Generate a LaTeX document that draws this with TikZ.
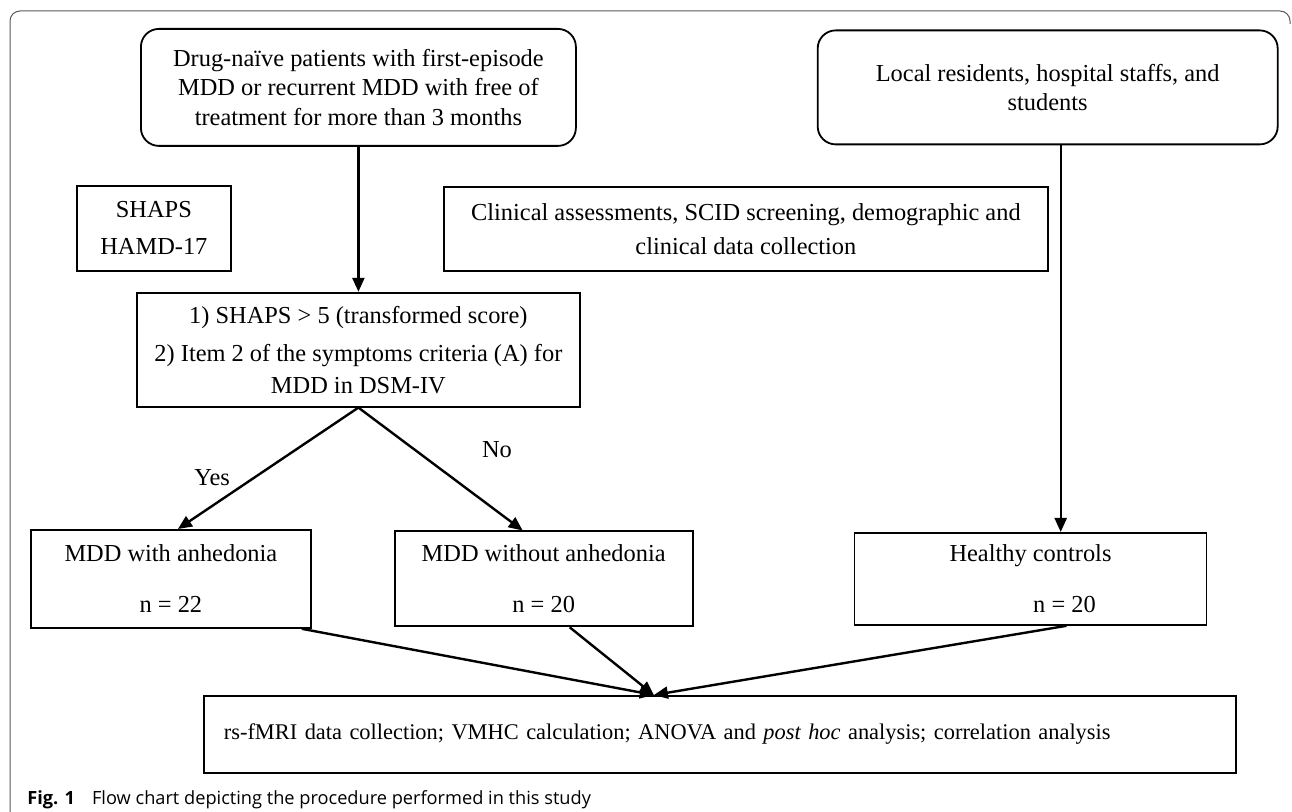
\documentclass[tikz,border=0pt]{standalone}
\usepackage{fontspec}
\setmainfont{Liberation Serif}
\newfontfamily\capfont{Open Sans}
\usetikzlibrary{positioning,arrows.meta}

\begin{document}
\begin{tikzpicture}[x=1pt, y=1pt,
    font=\fontsize{12.2}{14.8}\selectfont,
    box/.style={draw, line width=0.9pt, align=center, inner sep=0pt},
    roundbox/.style={box, rounded corners=9pt},
    flow/.style={-{Triangle[length=7pt,width=6pt]}, line width=1.2pt}]
    \useasboundingbox (0,0) rectangle (646,-406);
    \draw[gray!70!black, line width=0.5pt, rounded corners=5pt] (645,-12) -- (645,-5.5) -- (5,-5.5) -- (5,-406);

    \node[roundbox, minimum width=217.5pt, minimum height=58.5pt, anchor=north west] (drug) at (70,-14) {Drug-naïve patients with first-episode\\ MDD or recurrent MDD with free of\\ treatment for more than 3 months};
    \node[roundbox, minimum width=230pt, minimum height=57pt] (local) [right=120pt of drug] {Local residents, hospital staffs, and\\ students};
    \node[box, minimum width=77pt, minimum height=42.5pt, anchor=north west] (shaps) at (38,-92.5) {SHAPS\\[3.7pt] HAMD-17};
    \node[box, minimum width=302pt, minimum height=42pt, anchor=north west] (clin) at (221.5,-93) {Clinical assessments, SCID screening, demographic and\\[2.2pt] clinical data collection};
    \node[box, minimum width=221.5pt, minimum height=57pt] (crit) [below=72.5pt of drug] {1) SHAPS > 5 (transformed score)\\[4.2pt] 2) Item 2 of the symptoms criteria (A) for\\[1.2pt] MDD in DSM-IV};

    \node[box, minimum width=140pt, minimum height=49pt, anchor=north west] (withA) at (15,-264.5) {MDD with anhedonia\\[10.7pt] n = 22};
    \node[box, minimum width=149pt, minimum height=47.5pt] (noA) [right=41pt of withA] {MDD without anhedonia\\[10.7pt] n = 20};
    \node[box, minimum width=176pt, minimum height=46pt] (hc) [right=80pt of noA] {Healthy controls\\[10.7pt]\hspace*{34pt}n = 20};
    \node[box, minimum width=516pt, minimum height=38.5pt, anchor=north west, align=left, text width=496pt, font=\fontsize{11.2}{14}\selectfont] (final) at (101.5,-347.5) {rs-fMRI data collection; VMHC calculation; ANOVA and \textit{post hoc} analysis; correlation analysis};

    \node[anchor=base west, inner sep=0pt, font=\capfont\fontsize{9.1}{11}\selectfont] (cap) at (13.5,-402.5) {\textbf{Fig. 1}\hspace{8.5pt}Flow chart depicting the procedure performed in this study};

    \coordinate (join) at ([xshift=-33pt]final.north);

    \draw[flow] (drug.south) -- (drug.south |- crit.north);
    \draw[flow] (crit.south) -- node[left=8pt, pos=0.58] {Yes} ([xshift=3.5pt]withA.north);
    \draw[flow] (crit.south) -- node[right=30pt, pos=0.34] {No} ([xshift=-10.5pt]noA.north);
    \draw[flow] ([xshift=6.5pt]local.south) -- ([xshift=6.5pt]local.south |- hc.north);
    \draw[flow] ([xshift=-5pt]withA.south east) -- (join);
    \draw[flow] ([xshift=13pt]noA.south) -- (join);
    \draw[flow] ([xshift=18pt]hc.south) -- (join);
\end{tikzpicture}
\end{document}
